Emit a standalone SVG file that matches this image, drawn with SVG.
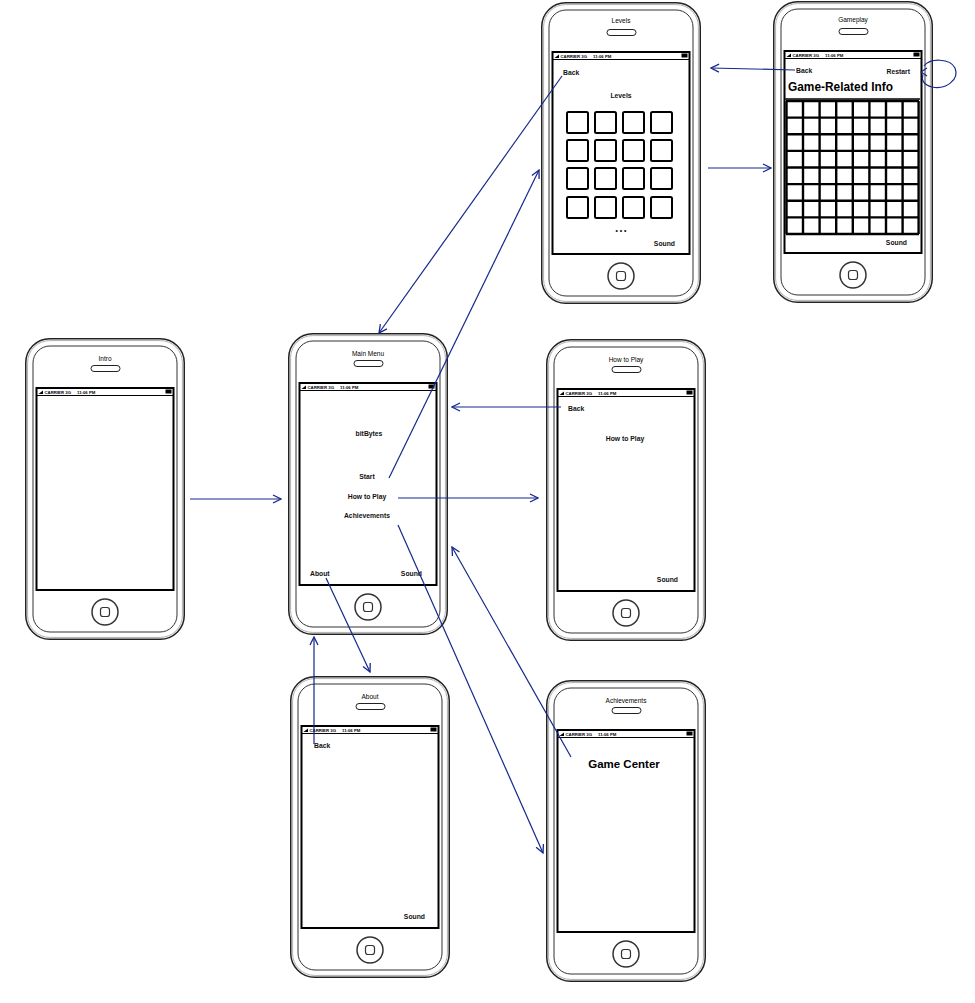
<svg xmlns="http://www.w3.org/2000/svg" xmlns:xlink="http://www.w3.org/1999/xlink" width="975" height="1003" viewBox="0 0 975 1003">
<style>
.t{font-family:"Liberation Sans",Arial,sans-serif;font-size:6.8px;font-weight:bold;fill:#111}
.ti{font-family:"Liberation Sans",Arial,sans-serif;font-size:6.5px;fill:#000}
.sb{font-family:"Liberation Sans",Arial,sans-serif;font-size:4.3px;font-weight:bold;fill:#000}
.big{font-family:"Liberation Sans",Arial,sans-serif;font-weight:bold;fill:#000}
.c{fill:none;stroke:#14288c;stroke-width:1.2}
.box{fill:#fff;stroke:#000;stroke-width:2}
.grid{stroke:#000;stroke-width:2.4}
</style>
<defs>
<marker id="ah" markerWidth="10" markerHeight="10" refX="9" refY="5" orient="auto" markerUnits="userSpaceOnUse">
<path d="M1,1 L9,5 L1,9" fill="none" stroke="#14288c" stroke-width="1.3"/>
</marker>
<symbol id="phone" overflow="visible">
<rect x="0.75" y="0.75" width="158.5" height="300.5" rx="24" fill="#fff" stroke="#222" stroke-width="1.5"/>
<rect x="2.6" y="2.6" width="154.8" height="296.8" rx="22" fill="none" stroke="#b0b0b0" stroke-width="1"/>
<rect x="8" y="8" width="144" height="286" rx="17" fill="none" stroke="#333" stroke-width="1"/>
<rect x="66" y="27.5" width="29" height="6" rx="3" fill="#fff" stroke="#222" stroke-width="1"/>
<rect x="11.5" y="50" width="137" height="202" fill="#fff" stroke="#000" stroke-width="2"/>
<line x1="11.5" y1="57.5" x2="148.5" y2="57.5" stroke="#000" stroke-width="1"/>
<path d="M13.5,56 L18,52.5 L18,56 Z" fill="#000"/>
<text class="sb" x="19.5" y="56">CARRIER  3G</text>
<text class="sb" x="52" y="56">11:06 PM</text>
<rect x="140.5" y="51.5" width="6" height="4" fill="#000"/>
<circle cx="80" cy="274" r="13" fill="#fff" stroke="#333" stroke-width="1.5"/>
<rect x="75.5" y="269.5" width="9" height="9" rx="2.5" fill="none" stroke="#333" stroke-width="1.2"/>
</symbol>
</defs>
<rect width="975" height="1003" fill="#fff"/>

<g id="intro">
<use xlink:href="#phone" x="25" y="338"/>
<text class="ti" x="105" y="361" text-anchor="middle">Intro</text>
</g>

<g id="main-menu">
<use xlink:href="#phone" x="288" y="333"/>
<text class="ti" x="368" y="356" text-anchor="middle">Main Menu</text>
<text class="t" x="369" y="435.5" text-anchor="middle">bitBytes</text>
<text class="t" x="367" y="478.5" text-anchor="middle">Start</text>
<text class="t" x="367" y="498.5" text-anchor="middle">How to Play</text>
<text class="t" x="367" y="517.5" text-anchor="middle">Achievements</text>
<text class="t" x="310" y="575.5">About</text>
<text class="t" x="422" y="575.5" text-anchor="end">Sound</text>
</g>

<g id="levels">
<use xlink:href="#phone" x="541" y="2"/>
<text class="ti" x="621" y="23" text-anchor="middle">Levels</text>
<text class="t" x="563" y="74.5">Back</text>
<text class="t" x="621" y="97.5" text-anchor="middle">Levels</text>
<g>
<rect class="box" x="567" y="112" width="21" height="21" rx="1.5"/>
<rect class="box" x="595" y="112" width="21" height="21" rx="1.5"/>
<rect class="box" x="623" y="112" width="21" height="21" rx="1.5"/>
<rect class="box" x="651" y="112" width="21" height="21" rx="1.5"/>
<rect class="box" x="567" y="140" width="21" height="21" rx="1.5"/>
<rect class="box" x="595" y="140" width="21" height="21" rx="1.5"/>
<rect class="box" x="623" y="140" width="21" height="21" rx="1.5"/>
<rect class="box" x="651" y="140" width="21" height="21" rx="1.5"/>
<rect class="box" x="567" y="168" width="21" height="21" rx="1.5"/>
<rect class="box" x="595" y="168" width="21" height="21" rx="1.5"/>
<rect class="box" x="623" y="168" width="21" height="21" rx="1.5"/>
<rect class="box" x="651" y="168" width="21" height="21" rx="1.5"/>
<rect class="box" x="567" y="197" width="21" height="21" rx="1.5"/>
<rect class="box" x="595" y="197" width="21" height="21" rx="1.5"/>
<rect class="box" x="623" y="197" width="21" height="21" rx="1.5"/>
<rect class="box" x="651" y="197" width="21" height="21" rx="1.5"/>
</g>
<text class="t" x="621" y="233" text-anchor="middle" font-size="8">• • •</text>
<text class="t" x="675" y="245.5" text-anchor="end">Sound</text>
</g>

<g id="gameplay">
<use xlink:href="#phone" x="773" y="1"/>
<text class="ti" x="853" y="22" text-anchor="middle">Gameplay</text>
<text class="t" x="796" y="73">Back</text>
<text class="t" x="910" y="73.5" text-anchor="end">Restart</text>
<text class="big" x="788" y="91" font-size="12" textLength="105" lengthAdjust="spacingAndGlyphs">Game-Related Info</text>
<line x1="785" y1="99" x2="920" y2="99" stroke="#000" stroke-width="1.5"/>
<g class="grid">
<line x1="786" y1="101" x2="919" y2="101"/>
<line x1="786" y1="117.6" x2="919" y2="117.6"/>
<line x1="786" y1="134.2" x2="919" y2="134.2"/>
<line x1="786" y1="150.9" x2="919" y2="150.9"/>
<line x1="786" y1="167.5" x2="919" y2="167.5"/>
<line x1="786" y1="184.1" x2="919" y2="184.1"/>
<line x1="786" y1="200.7" x2="919" y2="200.7"/>
<line x1="786" y1="217.4" x2="919" y2="217.4"/>
<line x1="786" y1="234" x2="919" y2="234"/>
<line x1="786.5" y1="101" x2="786.5" y2="234"/>
<line x1="803" y1="101" x2="803" y2="234"/>
<line x1="819.6" y1="101" x2="819.6" y2="234"/>
<line x1="836.2" y1="101" x2="836.2" y2="234"/>
<line x1="852.8" y1="101" x2="852.8" y2="234"/>
<line x1="869.4" y1="101" x2="869.4" y2="234"/>
<line x1="886" y1="101" x2="886" y2="234"/>
<line x1="902.6" y1="101" x2="902.6" y2="234"/>
<line x1="918.6" y1="101" x2="918.6" y2="234"/>
</g>
<text class="t" x="907" y="244.5" text-anchor="end">Sound</text>
</g>

<g id="how-to-play">
<use xlink:href="#phone" x="546" y="339"/>
<text class="ti" x="626" y="362" text-anchor="middle">How to Play</text>
<text class="t" x="568" y="410.5">Back</text>
<text class="t" x="625" y="440.5" text-anchor="middle">How to Play</text>
<text class="t" x="678" y="581.5" text-anchor="end">Sound</text>
</g>

<g id="about">
<use xlink:href="#phone" x="290" y="676"/>
<text class="ti" x="370" y="699" text-anchor="middle">About</text>
<text class="t" x="314" y="747.5">Back</text>
<text class="t" x="425" y="918.5" text-anchor="end">Sound</text>
</g>

<g id="achievements">
<use xlink:href="#phone" x="546" y="680"/>
<text class="ti" x="626" y="703" text-anchor="middle">Achievements</text>
<text class="big" x="624" y="768" font-size="11.5" text-anchor="middle">Game Center</text>
</g>

<g id="connectors">
<path class="c" d="M190,499 L281,499" marker-end="url(#ah)"/>
<path class="c" d="M398,498 L538,498" marker-end="url(#ah)"/>
<path class="c" d="M561,407 L452,407" marker-end="url(#ah)"/>
<path class="c" d="M389,478 L539,170" marker-end="url(#ah)"/>
<path class="c" d="M562,76 L379,333" marker-end="url(#ah)"/>
<path class="c" d="M708,168 L771,168" marker-end="url(#ah)"/>
<path class="c" d="M795,70 L711,68" marker-end="url(#ah)"/>
<path class="c" d="M924,66 C930,58 950,58 955,68 C960,80 945,90 932,87 C924,85 921,80 923,75"/>
<path class="c" d="M927,68 L921,72 L927,76"/>
<path class="c" d="M398,525 L543,853" marker-end="url(#ah)"/>
<path class="c" d="M571,757 L452,547" marker-end="url(#ah)"/>
<path class="c" d="M326,578 L370,672" marker-end="url(#ah)"/>
<path class="c" d="M314,744 L314,637" marker-end="url(#ah)"/>
</g>
</svg>
